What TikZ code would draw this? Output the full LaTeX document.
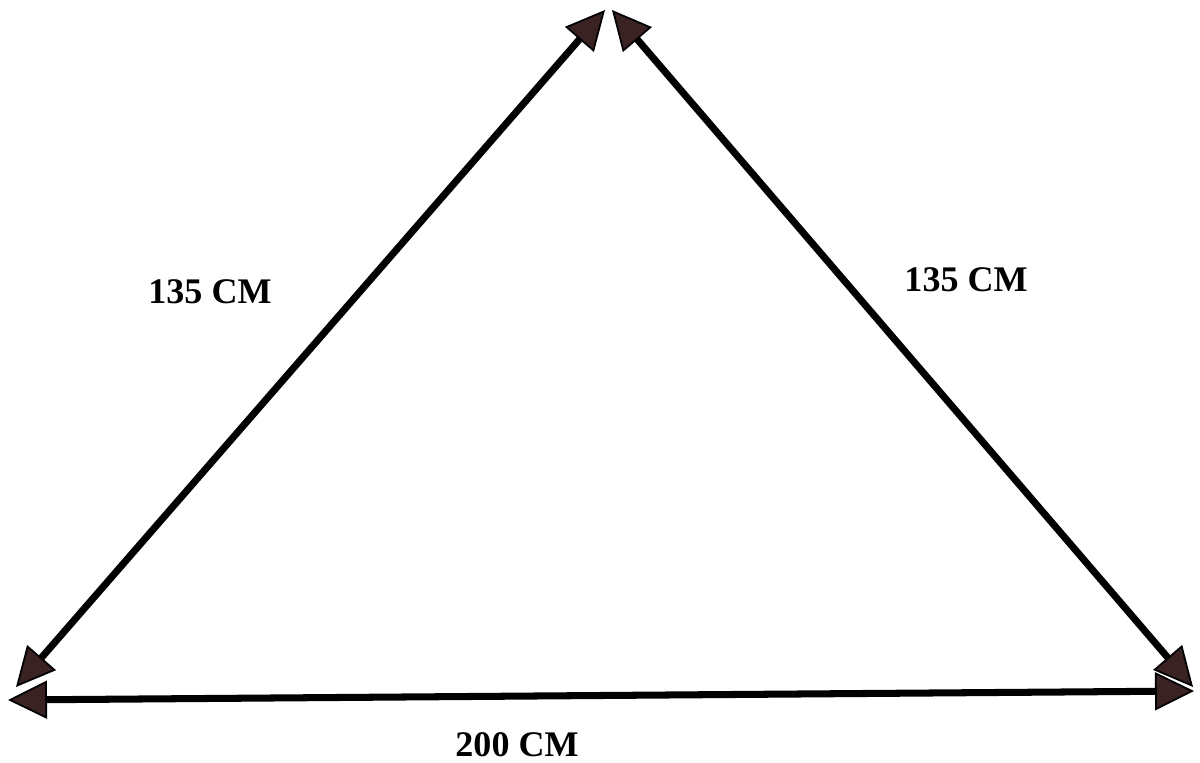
\documentclass[tikz,border=0pt]{standalone}
\usepackage{fontspec}
\setmainfont{Liberation Serif}
\usepackage{tikz}
\usetikzlibrary{arrows.meta}
\definecolor{tipbrown}{HTML}{3A2222}

\begin{document}
\begin{tikzpicture}[line width=4pt,line join=round]
\tikzstyle{side}=[{Triangle[length=0.78cm,width=0.76cm,fill=tipbrown,line width=1pt]}-{Triangle[length=0.78cm,width=0.76cm,fill=tipbrown,line width=1pt]}]
\tikzstyle{size}=[font=\fontsize{20.5}{24}\selectfont\bfseries,inner sep=0pt]
\useasboundingbox (0,0) rectangle (24,15.24);
\coordinate (topl) at (12.10,15.04);
\coordinate (topr) at (12.24,15.04);
\coordinate (botl) at (0.32,1.50);
\coordinate (lowl) at (0.16,1.24);
\coordinate (lowr) at (23.88,1.42);
\coordinate (botr) at (23.86,1.50);
\draw[side] (topl) -- (botl);
\draw[side] (topr) -- (botr);
\draw[side] (lowl) -- (lowr);
\node[size] (left) at (4.2,9.4) {135 CM};
\node[size] (right) at (19.32,9.64) {135 CM};
\node[size] (base) at (10.34,0.34) {200 CM};
\end{tikzpicture}
\end{document}
